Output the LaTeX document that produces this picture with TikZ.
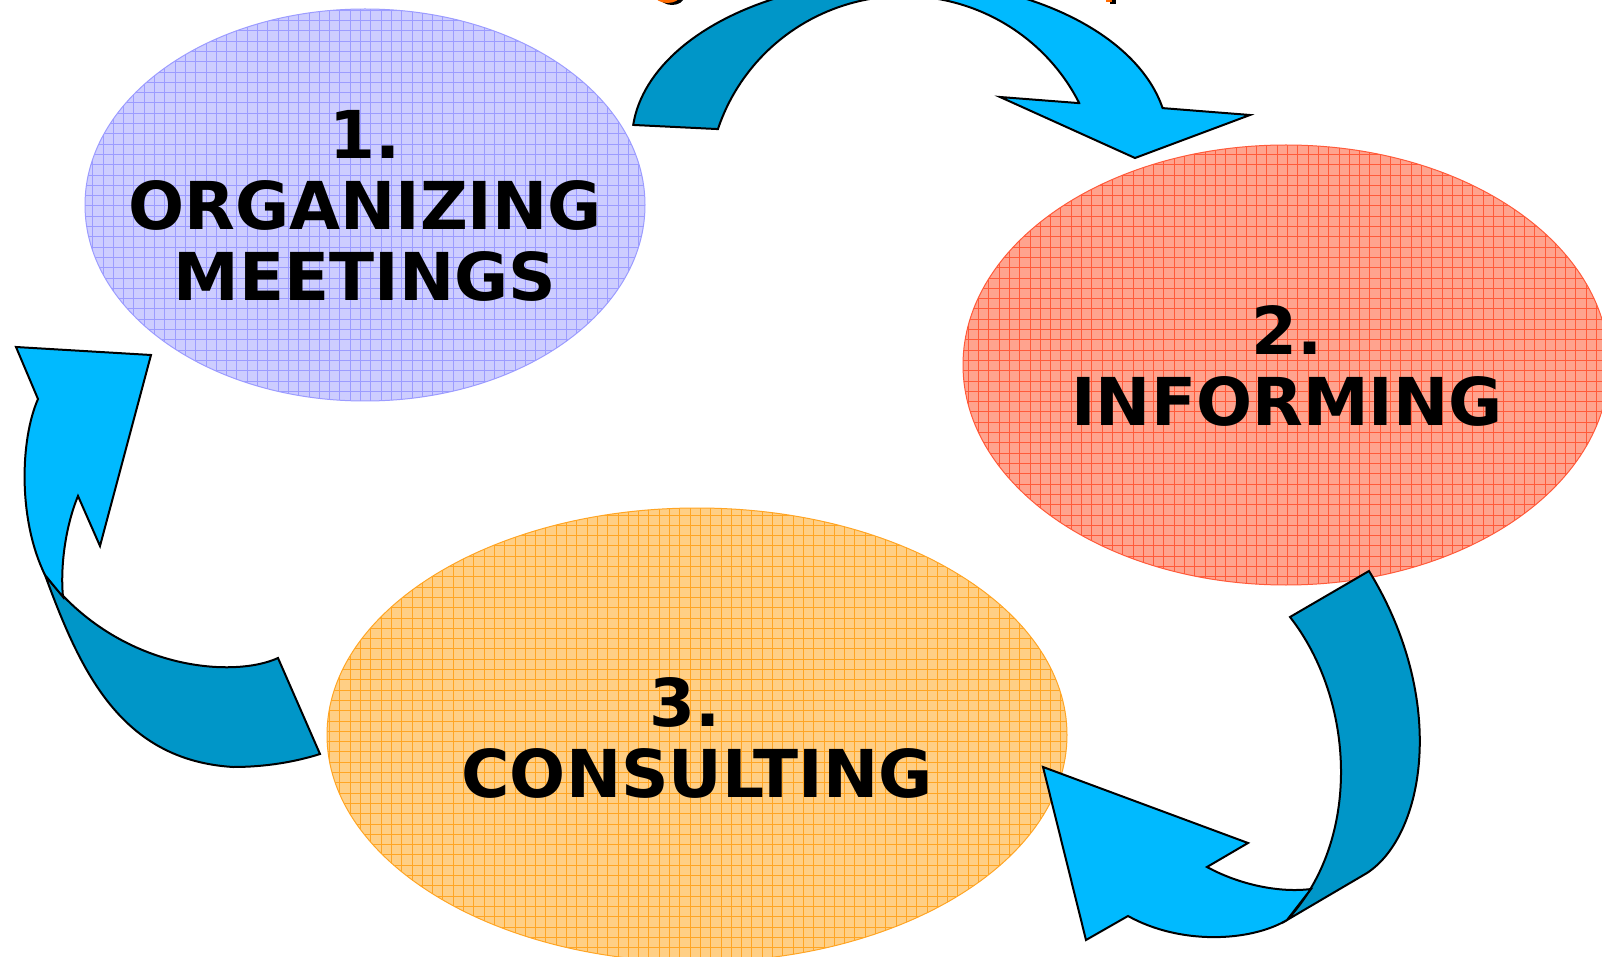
\documentclass[tikz,border=0pt]{standalone}
\usepackage{fontspec}
\newfontfamily\dejavu{DejaVu Sans}
\definecolor{arrowdarkc}{HTML}{0096C8}
\definecolor{arrowlightc}{HTML}{00BAFF}
\definecolor{bluefill}{HTML}{CDCDFF}
\definecolor{blueline}{HTML}{9C9CFF}
\definecolor{redfill}{HTML}{FFA38E}
\definecolor{redline}{HTML}{FF5A3A}
\definecolor{orangefill}{HTML}{FFCF85}
\definecolor{orangeline}{HTML}{FFA524}
\definecolor{titleorange}{HTML}{FF6A00}
\begin{document}
\begin{tikzpicture}[x=0.5pt,y=-0.5pt,
  arrowdark/.style={fill=arrowdarkc, draw=black, line width=1pt},
  arrowlight/.style={fill=arrowlightc, draw=black, line width=1pt},
  bubble/.style 2 args={fill=#1, draw=#2, line width=0.5pt,
    path picture={\draw[#2, line width=0.5pt, step=5.15pt]
      (path picture bounding box.south west) grid (path picture bounding box.north east);}},
  label/.style={font=\dejavu\bfseries\fontsize{33}{35.5}\selectfont, align=center, inner sep=0pt, text=black}]
\useasboundingbox (0,0) rectangle (1602,957);
\clip (0,0) rectangle (1602,957);
\fill[white] (0,0) rectangle (1602,957);

% title fragments cut off at the top
\fill[black] (672,-3) ellipse [x radius=12, y radius=8];
\fill[titleorange] (667.5,-5) ellipse [x radius=13, y radius=8];
\fill[black] (1110,-10) rectangle (1116,4);
\fill[titleorange] (1106,-10) rectangle (1112,2.5);

% ellipses
\path[bubble={bluefill}{blueline}] (365,205) ellipse [x radius=280, y radius=196];
\path[bubble={redfill}{redline}] (1286,365) ellipse [x radius=323, y radius=220];
\path[bubble={orangefill}{orangeline}] (697,735) ellipse [x radius=370, y radius=227];

% labels
\node[label] (t1) at (365,206) {1.\\ORGANIZING\\MEETINGS};
\node[label] (t2) at (1287,366) {2.\\INFORMING};
\node[label] (t3) at (697,738) {3.\hspace*{0.35em}\\CONSULTING};

% top arrow (1 -> 2): outer edge ellipse c=(900,140) a=268 b=160, inner edge c=(904,190) a=196 b=194
\draw[arrowdark] ({900+268*cos(185.4)},{140+160*sin(185.4)})
  -- ({904+196*cos(198.3)},{190+194*sin(198.3)})
  -- plot[domain=198.3:266, samples=40] ({904+196*cos(\x)},{190+194*sin(\x)})
  -- ({900+268*cos(258)},{140+160*sin(258)})
  -- plot[domain=258:185.4, samples=40] ({900+268*cos(\x)},{140+160*sin(\x)})
  -- cycle;
\draw[arrowlight] ({904+196*cos(333.4)},{190+194*sin(333.4)})
  -- (1000,97) -- (1135,158) -- (1250,115)
  -- ({900+268*cos(348.5)},{140+160*sin(348.5)})
  -- plot[domain=348.5:282, samples=40] ({900+268*cos(\x)},{140+160*sin(\x)})
  -- ({904+196*cos(274)},{190+194*sin(274)})
  -- plot[domain=274:333.4, samples=40] ({904+196*cos(\x)},{190+194*sin(\x)})
  -- cycle;

% right arrow (2 -> 3)
\draw[arrowdark] (1369,571) -- (1290,617)
  .. controls (1355,700) and (1362,840) .. (1287,920)
  -- (1367,873)
  .. controls (1425,835) and (1448,700) .. (1369,571)
  -- cycle;
\draw[arrowlight] (1287,920)
  .. controls (1250,942) and (1180,945) .. (1128,916)
  -- (1086,940) -- (1043,767) -- (1248,843) -- (1207,867)
  .. controls (1240,885) and (1280,893) .. (1311,889)
  -- cycle;

% left arrow (3 -> 1)
\draw[arrowdark] (45,575)
  .. controls (80,670) and (120,760) .. (233,767)
  .. controls (265,767) and (295,762) .. (320,754)
  -- (278,658)
  .. controls (235,678) and (120,672) .. (45,575)
  -- cycle;
\draw[arrowlight] (38,399) -- (16,347) -- (151,355) -- (100,546) -- (78,496)
  .. controls (66,525) and (60,565) .. (63,597)
  -- (45,575)
  .. controls (18,520) and (20,440) .. (38,399)
  -- cycle;
\end{tikzpicture}
\end{document}
